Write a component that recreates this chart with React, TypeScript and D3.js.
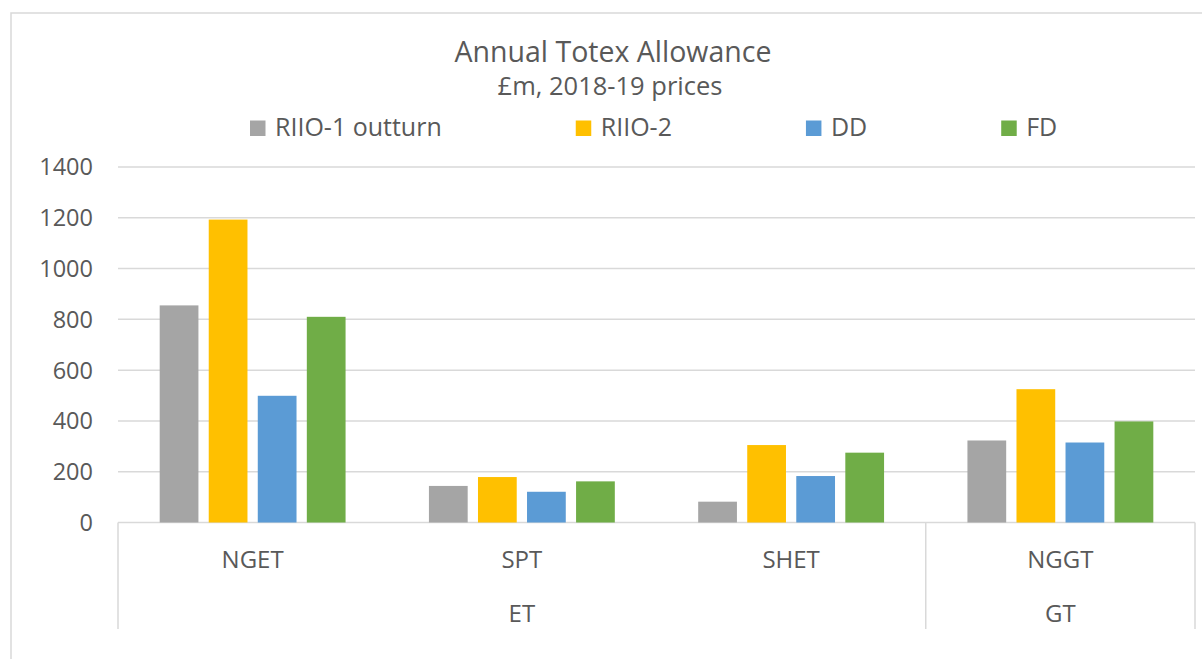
import React, { useEffect, useRef } from "react";
import * as d3 from "d3";

const categories = ["NGET", "SPT", "SHET", "NGGT"];
const groups = [
  { name: "ET", members: ["NGET", "SPT", "SHET"] },
  { name: "GT", members: ["NGGT"] },
];
const seriesNames = ["RIIO-1 outturn", "RIIO-2", "DD", "FD"];
const riio1Outturn = [855, 144, 82, 323];
const riio2 = [1193, 179, 305, 525];
const dd = [499, 121, 183, 315];
const fd = [810, 162, 275, 398];
const seriesColors = ["#A5A5A5", "#FFC000", "#5B9BD5", "#70AD47"];
const yTicks = [0, 200, 400, 600, 800, 1000, 1200, 1400];

export default function App() {
  const svgRef = useRef<SVGSVGElement>(null);
  const width = 1202;
  const height = 659;
  const font = "'Open Sans', sans-serif";
  const textColor = "#595959";
  const lineColor = "#D9D9D9";

  useEffect(() => {
    const svg = d3.select(svgRef.current);
    svg.selectAll("*").remove();

    const values = [riio1Outturn, riio2, dd, fd];
    const plotLeft = 118;
    const plotRight = 1195;
    const y = d3.scaleLinear().domain([0, 1400]).range([522.5, 167]);
    const x0 = d3.scaleBand().domain(categories).range([plotLeft, plotRight]);
    const x1 = d3
      .scaleBand()
      .domain(seriesNames)
      .range([0, x0.bandwidth()])
      .paddingInner(0.21)
      .paddingOuter(0.85);

    //Outer chart border (clipped by the page edge like the original)
    svg
      .append("rect")
      .attr("x", 11)
      .attr("y", 13)
      .attr("width", 1300)
      .attr("height", 800)
      .attr("fill", "white")
      .attr("stroke", lineColor)
      .attr("stroke-width", 1.5);

    //Title
    svg
      .append("text")
      .attr("x", 613)
      .attr("y", 62)
      .attr("text-anchor", "middle")
      .attr("font-size", 28.5)
      .attr("fill", textColor)
      .text("Annual Totex Allowance");
    svg
      .append("text")
      .attr("x", 610)
      .attr("y", 95)
      .attr("text-anchor", "middle")
      .attr("font-size", 25.5)
      .attr("fill", textColor)
      .text("£m, 2018-19 prices");

    //Gridlines and y labels
    const grid = svg.append("g");
    grid
      .selectAll("line")
      .data(yTicks)
      .join("line")
      .attr("x1", plotLeft)
      .attr("x2", plotRight)
      .attr("y1", (d) => y(d))
      .attr("y2", (d) => y(d))
      .attr("stroke", lineColor)
      .attr("stroke-width", 1.5);
    grid
      .selectAll("text")
      .data(yTicks)
      .join("text")
      .attr("x", 93)
      .attr("y", (d) => y(d))
      .attr("dy", "0.36em")
      .attr("text-anchor", "end")
      .attr("font-size", 23.5)
      .attr("fill", textColor)
      .text((d) => d);

    //Bars
    const cat = svg
      .append("g")
      .selectAll("g")
      .data(categories)
      .join("g")
      .attr("transform", (d) => `translate(${x0(d)},0)`);
    cat
      .selectAll("rect")
      .data((d, i) => seriesNames.map((s, j) => ({ s, v: values[j][i], c: seriesColors[j] })))
      .join("rect")
      .attr("x", (d) => x1(d.s)!)
      .attr("y", (d) => y(d.v))
      .attr("width", x1.bandwidth())
      .attr("height", (d) => y(0) - y(d.v))
      .attr("fill", (d) => d.c);

    //Category axis with group boxes
    const axisBottom = 629;
    const axis = svg.append("g");
    const boundaries = [plotLeft];
    groups.forEach((g) => {
      const last = g.members[g.members.length - 1];
      boundaries.push(x0(last)! + x0.bandwidth());
    });
    axis
      .selectAll("line")
      .data(boundaries)
      .join("line")
      .attr("x1", (d) => d)
      .attr("x2", (d) => d)
      .attr("y1", y(0))
      .attr("y2", axisBottom)
      .attr("stroke", lineColor)
      .attr("stroke-width", 1.5);
    axis
      .selectAll("text.cat")
      .data(categories)
      .join("text")
      .attr("class", "cat")
      .attr("x", (d) => x0(d)! + x0.bandwidth() / 2)
      .attr("y", 568)
      .attr("text-anchor", "middle")
      .attr("font-size", 24)
      .attr("fill", textColor)
      .text((d) => d);
    axis
      .selectAll("text.grp")
      .data(groups)
      .join("text")
      .attr("class", "grp")
      .attr("x", (g) => {
        const a = x0(g.members[0])!;
        const b = x0(g.members[g.members.length - 1])! + x0.bandwidth();
        return (a + b) / 2;
      })
      .attr("y", 621.5)
      .attr("text-anchor", "middle")
      .attr("font-size", 24)
      .attr("fill", textColor)
      .text((g) => g.name);

    //Legend, laid out by measured text widths
    const legend = svg.append("g");
    let lx = 250;
    seriesNames.forEach((s, i) => {
      legend
        .append("rect")
        .attr("x", lx)
        .attr("y", 120.5)
        .attr("width", 15.5)
        .attr("height", 15.5)
        .attr("fill", seriesColors[i]);
      const t = legend
        .append("text")
        .attr("x", lx + 25)
        .attr("y", 136)
        .attr("font-size", 25)
        .attr("fill", textColor)
        .text(s);
      const w = (t.node() as SVGTextElement).getComputedTextLength();
      lx += 25 + w + 134;
    });
  }, []);

  return (
    <svg
      ref={svgRef}
      width={width}
      height={height}
      style={{ position: "absolute", left: 0, top: 0, fontFamily: font }}
    ></svg>
  );
}
